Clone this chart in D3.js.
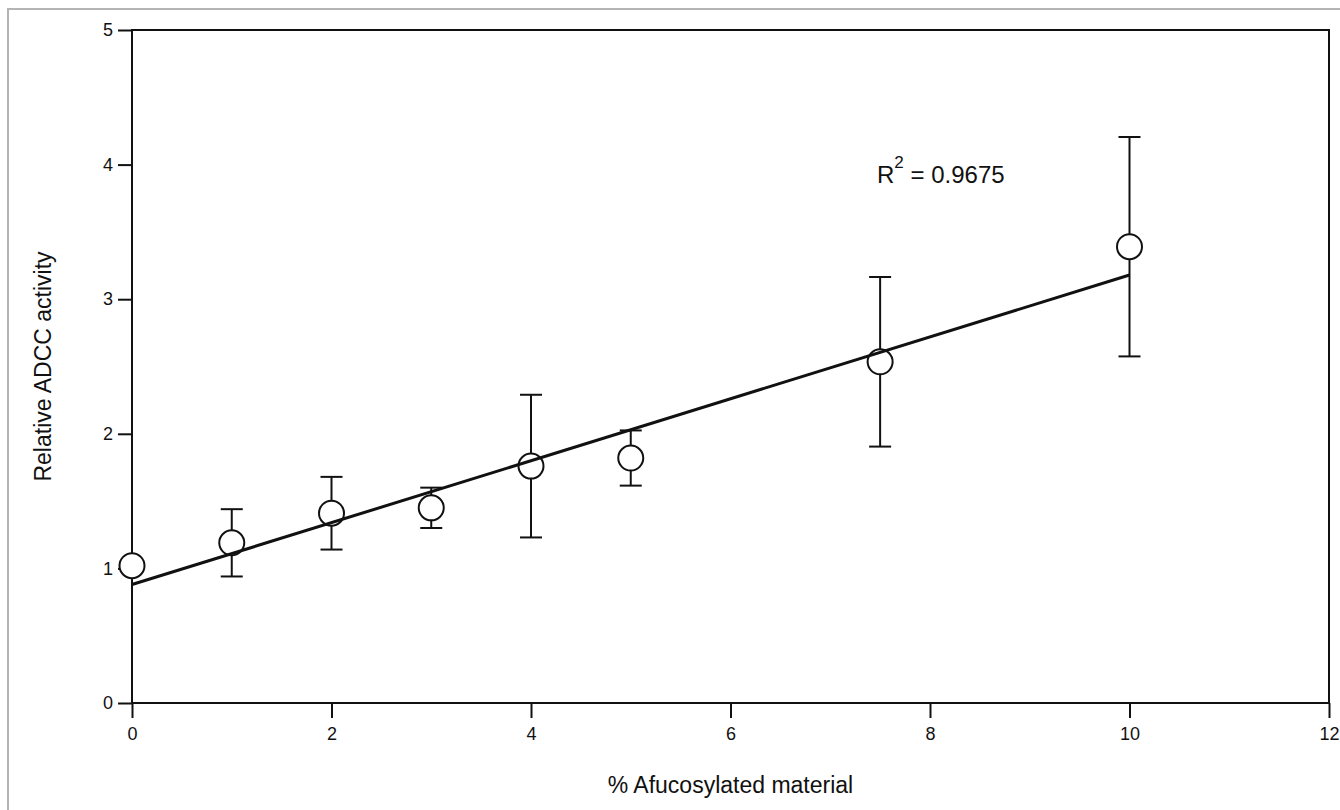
<!DOCTYPE html>
<html>
<head>
<meta charset="utf-8">
<script src="https://cdn.jsdelivr.net/npm/d3@7"></script>
<style>
  body { margin: 0; background: #fff; }
  svg { display: block; font-family: "Liberation Sans", Arial, Helvetica, sans-serif; }
</style>
</head>
<body>
<svg width="1340" height="810"></svg>
<script>
  // values
  const afucosylated = [0, 1, 2, 3, 4, 5, 7.5, 10];
  const adccActivity = [1.02, 1.19, 1.41, 1.45, 1.76, 1.82, 2.535, 3.39];
  const errorSize = [0, 0.25, 0.27, 0.15, 0.53, 0.205, 0.63, 0.815];
  const fitX = [0, 10];
  const fitY = [0.88, 3.18];
  const xTicks = [0, 2, 4, 6, 8, 10, 12];
  const yTicks = [0, 1, 2, 3, 4, 5];
  const rSquared = '0.9675';

  const svg = d3.select('svg');
  const ink = '#111';
  const fontFamily = '"Liberation Sans", Arial, Helvetica, sans-serif';

  const margin = { top: 30, right: 11, bottom: 107, left: 132 };
  const width = 1340, height = 810;
  const innerWidth = width - margin.left - margin.right;
  const innerHeight = height - margin.top - margin.bottom;

  // outer grey frame
  svg.append('rect')
    .attr('x', 8).attr('y', 9)
    .attr('width', 1400).attr('height', 900)
    .attr('fill', 'none')
    .attr('stroke', '#b4b4b4')
    .attr('stroke-width', 2);

  const xScale = d3.scaleLinear().domain([0, 12]).range([0, innerWidth]);
  const yScale = d3.scaleLinear().domain([0, 5]).range([innerHeight, 0]);

  const g = svg.append('g')
    .attr('transform', `translate(${margin.left},${margin.top})`);

  const xAxis = d3.axisBottom(xScale)
    .tickValues(xTicks).tickSize(15).tickPadding(9)
    .tickFormat(d3.format('d'));
  const yAxis = d3.axisLeft(yScale)
    .tickValues(yTicks).tickSize(14).tickPadding(5)
    .tickFormat(d3.format('d'));

  const xAxisG = g.append('g')
    .attr('transform', `translate(0,${innerHeight})`)
    .call(xAxis);
  const yAxisG = g.append('g').call(yAxis);

  [xAxisG, yAxisG].forEach(a => {
    a.attr('font-size', 18).attr('font-family', fontFamily);
    a.select('.domain').remove();
    a.selectAll('line').attr('stroke', ink).attr('stroke-width', 2);
    a.selectAll('text').attr('fill', ink);
  });

  // box frame
  g.append('rect')
    .attr('width', innerWidth).attr('height', innerHeight)
    .attr('fill', 'none')
    .attr('stroke', ink)
    .attr('stroke-width', 2);

  const data = afucosylated.map((x, i) => ({ x, y: adccActivity[i], e: errorSize[i] }));
  const cap = 11;

  const bars = g.selectAll('.err').data(data.filter(d => d.e > 0))
    .enter().append('g').attr('class', 'err')
    .attr('stroke', ink).attr('stroke-width', 2);
  bars.append('line')
    .attr('x1', d => xScale(d.x)).attr('x2', d => xScale(d.x))
    .attr('y1', d => yScale(d.y + d.e)).attr('y2', d => yScale(d.y - d.e));
  bars.append('line')
    .attr('x1', d => xScale(d.x) - cap).attr('x2', d => xScale(d.x) + cap)
    .attr('y1', d => yScale(d.y + d.e)).attr('y2', d => yScale(d.y + d.e));
  bars.append('line')
    .attr('x1', d => xScale(d.x) - cap).attr('x2', d => xScale(d.x) + cap)
    .attr('y1', d => yScale(d.y - d.e)).attr('y2', d => yScale(d.y - d.e));

  g.selectAll('circle').data(data)
    .enter().append('circle')
      .attr('cx', d => xScale(d.x))
      .attr('cy', d => yScale(d.y))
      .attr('r', 12.5)
      .attr('fill', '#fff')
      .attr('stroke', ink)
      .attr('stroke-width', 2);

  const fitLine = d3.line()
    .x(d => xScale(d[0]))
    .y(d => yScale(d[1]));
  g.append('path')
    .datum(fitX.map((x, i) => [x, fitY[i]]))
    .attr('d', fitLine)
    .attr('fill', 'none')
    .attr('stroke', ink)
    .attr('stroke-width', 3);

  // R squared label
  const r2 = svg.append('text')
    .attr('x', 877).attr('y', 183)
    .attr('fill', ink)
    .attr('font-size', 24);
  r2.append('tspan').text('R');
  r2.append('tspan').attr('dy', -15).attr('font-size', 17).text('2');
  r2.append('tspan').attr('dy', 15).text(' = ' + rSquared);

  // axis titles
  svg.append('text')
    .attr('x', margin.left + innerWidth / 2)
    .attr('y', 793)
    .attr('text-anchor', 'middle')
    .attr('fill', ink)
    .attr('font-size', 23)
    .text('% Afucosylated material');

  svg.append('text')
    .attr('transform', `translate(51,${margin.top + innerHeight / 2}) rotate(-90)`)
    .attr('text-anchor', 'middle')
    .attr('fill', ink)
    .attr('font-size', 23)
    .text('Relative ADCC activity');
</script>
</body>
</html>
